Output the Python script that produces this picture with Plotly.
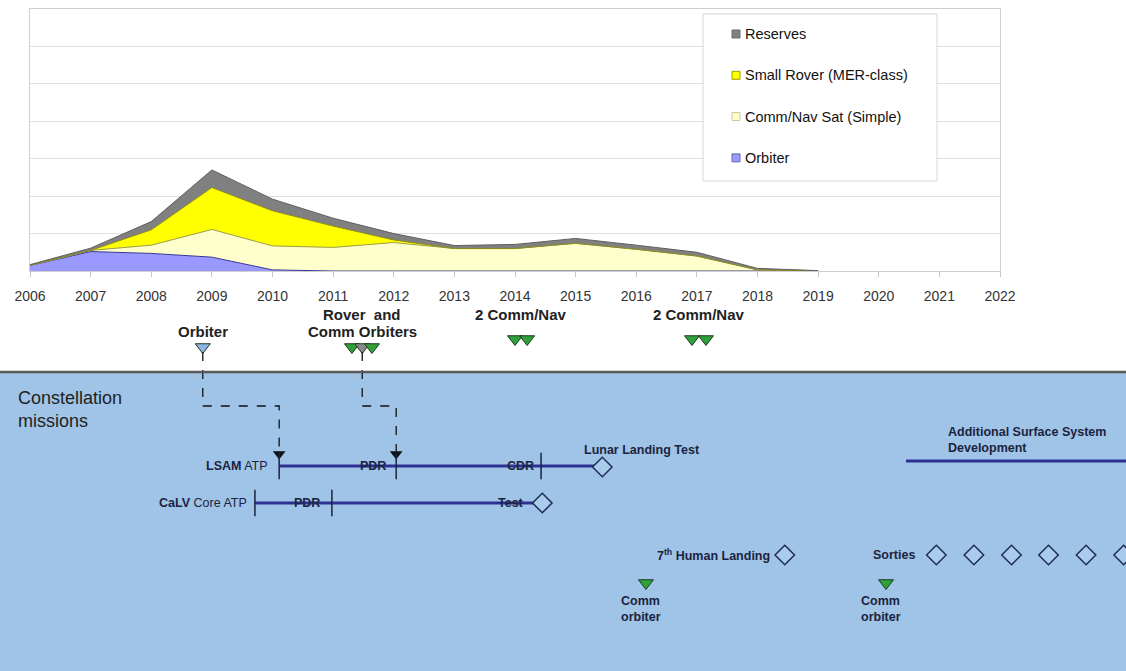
import plotly.graph_objects as go

# ---------------- data ----------------
# Stacked area: mission counts per year
years = [2006, 2007, 2008, 2009, 2010, 2011, 2012, 2013, 2014, 2015, 2016, 2017, 2018, 2019]
orbiter = [0.15, 0.52, 0.47, 0.37, 0.03, 0.0, 0.0, 0.0, 0.0, 0.0, 0.0, 0.0, 0.0, 0.0]
comm_nav = [0.0, 0.03, 0.22, 0.74, 0.64, 0.63, 0.76, 0.60, 0.60, 0.74, 0.58, 0.40, 0.03, 0.01]
small_rover = [0.0, 0.0, 0.41, 1.12, 0.94, 0.57, 0.07, 0.0, 0.0, 0.0, 0.0, 0.0, 0.0, 0.0]
reserves = [0.02, 0.06, 0.22, 0.47, 0.31, 0.21, 0.17, 0.08, 0.11, 0.13, 0.11, 0.10, 0.04, 0.0]
axis_years = list(range(2006, 2023))
series_names = ["Reserves", "Small Rover (MER-class)", "Comm/Nav Sat (Simple)", "Orbiter"]

# Launches shown above the Constellation timeline
launch_years = [2008.85, 2011.31, 2011.48, 2011.64, 2014.0, 2014.2, 2016.92, 2017.15]
launch_kind = ["orbiter", "comm", "rover", "comm", "comm", "comm", "comm", "comm"]
launch_group = ["orbiter", "rover", "rover", "rover", "commnav", "commnav", "commnav", "commnav"]
launch_labels = ["Orbiter", "Rover  and", "Comm Orbiters", "2 Comm/Nav", "2 Comm/Nav"]
launch_label_years = [2008.85, 2011.48, 2011.48, 2014.1, 2017.03]
launch_label_line = ["low", "high", "low", "high", "high"]

# Constellation milestones
lsam_atp, lsam_pdr, lsam_cdr, lunar_landing_test = 2010.11, 2012.04, 2014.43, 2015.44
calv_atp, calv_pdr, calv_test = 2009.71, 2010.98, 2014.45
human_landing_7 = 2018.45
sorties = [2020.95, 2021.57, 2022.19, 2022.80, 2023.42, 2024.04]
comm_orbiters = [2016.16, 2020.12]
surface_dev_start = 2020.45

# ---------------- layout helpers ----------------
W, H = 1126, 671
PX_PER_YEAR = (1000 - 30) / 16.0


def px(x):
    return x / W


def py(y):
    return 1 - y / H


# vertical positions (pixels from the top) of the timeline rows
ROW = {
    "orbiter": 347, "rover": 347, "commnav": 339,
    "lsam": 466, "calv": 503, "surface": 461,
    "landing": 555, "commorb": 583, "dash": 406,
}
LABEL_Y = {"low": 331, "high": 314}

FONT = "Liberation Sans, Arial, sans-serif"
NAVY = "#2E3192"
DARK = "#1C2340"
PANEL = "#9FC4E7"
SMALL = 12.5

fig = go.Figure()

# ---------------- stacked area ----------------
area_specs = [
    ("Orbiter", orbiter, "#9999FF", "#333399"),
    ("Comm/Nav Sat (Simple)", comm_nav, "#FFFFCC", "#9C9C4A"),
    ("Small Rover (MER-class)", small_rover, "#FFFF00", "#8C8C1A"),
    ("Reserves", reserves, "#808080", "#5F5F5F"),
]
for name, vals, fill, edge in area_specs:
    fig.add_trace(go.Scatter(
        x=years, y=vals, name=name, stackgroup="one", mode="lines",
        line=dict(color=edge, width=1), fillcolor=fill,
        xaxis="x", yaxis="y", showlegend=False, hoverinfo="skip",
    ))

# ---------------- timeline ----------------
XA, YA = "x2", "y2"

# Milestone bars
for x0, x1, row in [(lsam_atp, lunar_landing_test, "lsam"),
                    (calv_atp, calv_test, "calv")]:
    fig.add_trace(go.Scatter(x=[x0, x1], y=[ROW[row], ROW[row]], mode="lines",
                             line=dict(color=NAVY, width=3), xaxis=XA, yaxis=YA,
                             showlegend=False, hoverinfo="skip"))
fig.add_trace(go.Scatter(x=[surface_dev_start, 2030], y=[ROW["surface"]] * 2, mode="lines",
                         line=dict(color=NAVY, width=3), xaxis=XA, yaxis=YA,
                         showlegend=False, hoverinfo="skip"))

# Dashed connectors from launches down to LSAM milestones
for x_from, x_to in [(launch_years[0], lsam_atp), (launch_years[2], lsam_pdr)]:
    fig.add_shape(type="path",
                  path=f"M {x_from},{ROW['orbiter'] + 5} V {ROW['dash']} H {x_to} V {ROW['lsam'] - 14}",
                  xref=XA, yref=YA, line=dict(color="#111111", width=1.3, dash="dash"))
fig.add_trace(go.Scatter(x=[lsam_atp, lsam_pdr], y=[ROW["lsam"] - 12] * 2, mode="markers",
                         marker=dict(symbol="triangle-down", size=11, color="#111111"),
                         xaxis=XA, yaxis=YA, showlegend=False, hoverinfo="skip"))

# Vertical tick milestones
ticks_x = [lsam_atp, lsam_pdr, lsam_cdr, calv_atp, calv_pdr]
ticks_y = [ROW["lsam"]] * 3 + [ROW["calv"]] * 2
fig.add_trace(go.Scatter(x=ticks_x, y=ticks_y, mode="markers",
                         marker=dict(symbol="line-ns", size=19, line=dict(color=DARK, width=1.5)),
                         xaxis=XA, yaxis=YA, showlegend=False, hoverinfo="skip"))

# Diamond milestones
dia_x = [lunar_landing_test, calv_test, human_landing_7] + sorties
dia_y = [ROW["lsam"] + 1, ROW["calv"], ROW["landing"]] + [ROW["landing"]] * len(sorties)
fig.add_trace(go.Scatter(x=dia_x, y=dia_y, mode="markers",
                         marker=dict(symbol="diamond", size=15, color="#A9CCEC",
                                     line=dict(color="#1F2D55", width=1.5)),
                         xaxis=XA, yaxis=YA, showlegend=False, hoverinfo="skip"))

# Launch triangles
kind_color = {"orbiter": "#8DB4E2", "comm": "#2FA03A", "rover": "#8A8A8A"}
fig.add_trace(go.Scatter(
    x=launch_years, y=[ROW[g] for g in launch_group], mode="markers",
    marker=dict(symbol="triangle-down", size=13,
                color=[kind_color[k] for k in launch_kind],
                line=dict(color="#1E3A1E", width=1)),
    xaxis=XA, yaxis=YA, showlegend=False, hoverinfo="skip"))
fig.add_trace(go.Scatter(
    x=comm_orbiters, y=[ROW["commorb"]] * len(comm_orbiters), mode="markers",
    marker=dict(symbol="triangle-down", size=13, color="#2FA03A",
                line=dict(color="#1E3A1E", width=1)),
    xaxis=XA, yaxis=YA, showlegend=False, hoverinfo="skip"))

# ---------------- annotations ----------------
ann = []


def note(x, y, text, size=SMALL, anchor="center", xshift=0, yshift=0, yanchor="middle",
         bold=True, color=DARK, align="left"):
    ann.append(dict(x=x, y=y, xref=XA, yref=YA, text=f"<b>{text}</b>" if bold else text,
                    showarrow=False, xanchor=anchor, yanchor=yanchor, xshift=xshift,
                    yshift=yshift, align=align,
                    font=dict(family=FONT, size=size, color=color)))


for x, txt, line in zip(launch_label_years, launch_labels, launch_label_line):
    note(x, LABEL_Y[line], txt, size=15, color="#222222", align="center")

note(lsam_atp, ROW["lsam"], "<b>LSAM</b> ATP", anchor="right", xshift=-9, bold=False)
note(lsam_pdr, ROW["lsam"], "PDR", anchor="right", xshift=-8)
note(lsam_cdr, ROW["lsam"], "CDR", anchor="right", xshift=-5)
note(lunar_landing_test, ROW["lsam"], "Lunar Landing Test", anchor="left", xshift=-20, yshift=16)
note(calv_atp, ROW["calv"], "<b>CaLV</b> Core ATP", anchor="right", xshift=-6, bold=False)
note(calv_pdr, ROW["calv"], "PDR", anchor="right", xshift=-10)
note(calv_test, ROW["calv"], "Test", anchor="right", xshift=-16)
note(surface_dev_start, ROW["surface"], "Additional Surface System<br>Development",
     anchor="left", xshift=40, yanchor="bottom", yshift=4)
note(human_landing_7, ROW["landing"], "7<sup>th</sup> Human Landing", anchor="right", xshift=-13)
note(sorties[0], ROW["landing"], "Sorties", anchor="right", xshift=-19)
for x in comm_orbiters:
    note(x, ROW["commorb"], "Comm<br>orbiter", anchor="left", xshift=-27, yanchor="top", yshift=-9)

ann.append(dict(x=px(16), y=py(386), xref="paper", yref="paper", xanchor="left", yanchor="top",
                text="Constellation<br>missions", showarrow=False, align="left",
                font=dict(family=FONT, size=18, color="#222222")))

# Legend box (drawn manually)
legend_colors = {"Reserves": ("#808080", "#6A6A6A"),
                 "Small Rover (MER-class)": ("#FFFF00", "#A0A000"),
                 "Comm/Nav Sat (Simple)": ("#FFFFCC", "#C8C8A0"),
                 "Orbiter": ("#9999FF", "#6666AA")}
shapes = [
    dict(type="rect", xref="paper", yref="paper", x0=0, x1=1, y0=0, y1=py(372),
         fillcolor=PANEL, line=dict(width=0), layer="below"),
    dict(type="line", xref="paper", yref="paper", x0=0, x1=1, y0=py(372), y1=py(372),
         line=dict(color="#5A5A5A", width=2.5)),
    dict(type="rect", xref="paper", yref="paper", x0=px(703), x1=px(937), y0=py(181), y1=py(14),
         fillcolor="white", line=dict(color="#D6D6D6", width=1)),
]
for i, name in enumerate(series_names):
    yc = 34 + i * 41.3
    fc, lc = legend_colors[name]
    shapes.append(dict(type="rect", xref="paper", yref="paper", x0=px(732), x1=px(740),
                       y0=py(yc + 4), y1=py(yc - 4), fillcolor=fc, line=dict(color=lc, width=1)))
    ann.append(dict(x=px(743), y=py(yc), xref="paper", yref="paper", xanchor="left",
                    yanchor="middle", text=name, showarrow=False,
                    font=dict(family=FONT, size=14.5, color="#111111")))

for s in shapes:
    fig.add_shape(**s)

fig.update_layout(
    width=W, height=H, margin=dict(l=0, r=0, t=0, b=0, autoexpand=False),
    paper_bgcolor="white", plot_bgcolor="white", showlegend=False,
    annotations=ann,
    xaxis=dict(domain=[px(30), px(1000)], range=[2006, 2022], tickvals=axis_years,
               ticks="outside", ticklen=5, tickcolor="#C8C8C8", showgrid=False,
               showline=True, linecolor="#CFCFCF", mirror=True, zeroline=False,
               tickfont=dict(family=FONT, size=14, color="#333333"), ticklabelstandoff=7,
               fixedrange=True, automargin=False),
    yaxis=dict(domain=[py(271), py(9)], range=[0, 7], dtick=1, showgrid=True,
               gridcolor="#E0E0E0", showticklabels=False, showline=True, linecolor="#CFCFCF",
               mirror=True, zeroline=False, ticks="", fixedrange=True, automargin=False),
    xaxis2=dict(domain=[0, 1], anchor="y2", visible=False, automargin=False,
                range=[2006 - 30 / PX_PER_YEAR, 2006 + (W - 30) / PX_PER_YEAR]),
    yaxis2=dict(domain=[0, py(290)], anchor="x2", visible=False, range=[H, 290],
                automargin=False),
)

fig.write_html("out.html")
